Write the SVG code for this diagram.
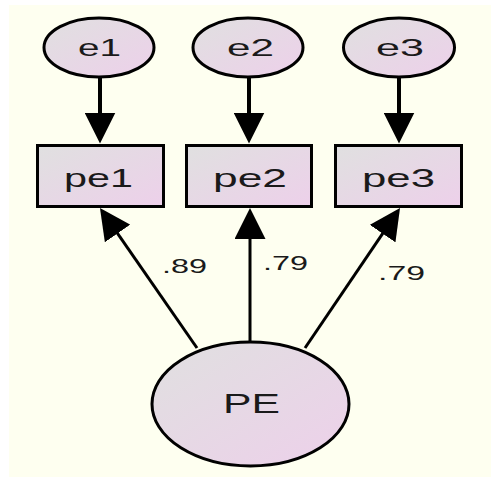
<svg xmlns="http://www.w3.org/2000/svg" width="491" height="479" viewBox="0 0 491 479">
  <defs>
    <linearGradient id="nodeFill" x1="0" y1="0" x2="1" y2="1">
      <stop offset="0" stop-color="#E0E0E0"/>
      <stop offset="1" stop-color="#EDD0EA"/>
    </linearGradient>
    <marker id="arrow" markerUnits="userSpaceOnUse" markerWidth="31" markerHeight="31" refX="16" refY="15.5" orient="auto" viewBox="0 0 31 31">
      <path d="M0,0 L31,15.5 L0,31 Z" fill="#000"/>
    </marker>
    <style>
      .node { fill: url(#nodeFill); stroke: #000; stroke-width: 3; }
      .lbl { font-family: "Liberation Sans", Arial, sans-serif; fill: #1a1a1a; }
      .conn { stroke: #000; fill: none; marker-end: url(#arrow); }
    </style>
  </defs>
  <rect x="0" y="0" width="491" height="479" fill="#FFFFFF"/>
  <rect x="9" y="5" width="482" height="472" fill="#FEFFF0"/>

  <g id="connectors">
    <line class="conn" stroke-width="4" x1="100" y1="78" x2="100" y2="128.5"/>
    <line class="conn" stroke-width="4" x1="249" y1="78" x2="249" y2="128.5"/>
    <line class="conn" stroke-width="4" x1="399" y1="78" x2="399" y2="128.5"/>
    <line class="conn" stroke-width="3" x1="197" y1="348" x2="108.5" y2="220.3"/>
    <line class="conn" stroke-width="3" x1="250" y1="341" x2="250" y2="223"/>
    <line class="conn" stroke-width="3" x1="305" y1="348" x2="391.6" y2="220.4"/>
    <text class="lbl" x="162" y="273" font-size="21" textLength="45" lengthAdjust="spacingAndGlyphs">.89</text>
    <text class="lbl" x="263" y="270" font-size="21" textLength="45" lengthAdjust="spacingAndGlyphs">.79</text>
    <text class="lbl" x="378" y="280" font-size="21" textLength="47" lengthAdjust="spacingAndGlyphs">.79</text>
  </g>

  <g id="e1">
    <ellipse class="node" cx="99" cy="47.5" rx="55" ry="29.5"/>
    <text class="lbl" x="78" y="56" font-size="24" textLength="43" lengthAdjust="spacingAndGlyphs">e1</text>
  </g>
  <g id="e2">
    <ellipse class="node" cx="248" cy="47.5" rx="55" ry="29.5"/>
    <text class="lbl" x="227" y="56" font-size="24" textLength="47" lengthAdjust="spacingAndGlyphs">e2</text>
  </g>
  <g id="e3">
    <ellipse class="node" cx="399" cy="47.5" rx="55.5" ry="29.5"/>
    <text class="lbl" x="376" y="56" font-size="24" textLength="48" lengthAdjust="spacingAndGlyphs">e3</text>
  </g>

  <g id="pe1">
    <rect class="node" x="37.5" y="145.5" width="126" height="61"/>
    <text class="lbl" x="64" y="187" font-size="26" textLength="69" lengthAdjust="spacingAndGlyphs">pe1</text>
  </g>
  <g id="pe2">
    <rect class="node" x="186.5" y="145.5" width="125" height="61"/>
    <text class="lbl" x="213" y="187" font-size="26" textLength="74" lengthAdjust="spacingAndGlyphs">pe2</text>
  </g>
  <g id="pe3">
    <rect class="node" x="335.5" y="145.5" width="126" height="61"/>
    <text class="lbl" x="362" y="187" font-size="26" textLength="73" lengthAdjust="spacingAndGlyphs">pe3</text>
  </g>

  <g id="PE">
    <ellipse class="node" cx="250.5" cy="404" rx="98.5" ry="62"/>
    <text class="lbl" x="223" y="413" font-size="28" textLength="57" lengthAdjust="spacingAndGlyphs">PE</text>
  </g>
</svg>
